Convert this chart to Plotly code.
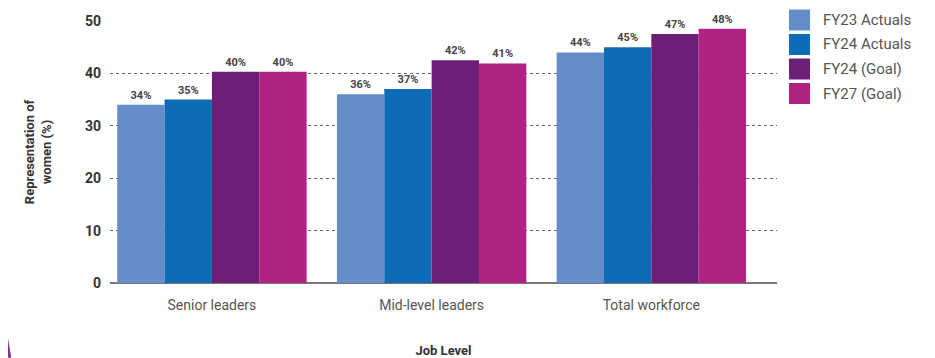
import plotly.graph_objects as go

categories = ["Senior leaders", "Mid-level leaders", "Total workforce"]
series_names = ["FY23 Actuals", "FY24 Actuals", "FY24 (Goal)", "FY27 (Goal)"]
fy23_actuals = [34.0, 36.0, 44.0]
fy24_actuals = [35.0, 37.0, 45.0]
fy24_goal = [40.3, 42.5, 47.5]
fy27_goal = [40.3, 41.9, 48.5]
fy23_labels = ["34%", "36%", "44%"]
fy24_labels = ["35%", "37%", "45%"]
fy24_goal_labels = ["40%", "42%", "47%"]
fy27_goal_labels = ["40%", "41%", "48%"]
y_ticks = [0, 10, 20, 30, 40, 50]

colors = ["#658DC9", "#0E6BB5", "#6D1F78", "#AF2482"]
values = [fy23_actuals, fy24_actuals, fy24_goal, fy27_goal]
labels = [fy23_labels, fy24_labels, fy24_goal_labels, fy27_goal_labels]

FONT = "Roboto, DejaVu Sans, sans-serif"

W, H = 927, 350
ML, MR, MT, MB = 102, 158, 13, 75
PW, PH = W - ML - MR, H - MT - MB

def px(fx):
    return (fx - ML) / PW

def py(fy):
    return (H - MB - fy) / PH

fig = go.Figure()
for name, vals, labs, col in zip(series_names, values, labels, colors):
    fig.add_trace(go.Bar(
        x=categories, y=vals, name=name, text=labs, showlegend=False,
        textposition="outside", cliponaxis=False,
        textfont=dict(family=FONT, size=11, color="#444444", weight="bold"),
        marker=dict(color=col, line=dict(width=0)),
    ))

fig.update_layout(
    width=W, height=H,
    margin=dict(l=ML, r=MR, t=MT, b=MB, autoexpand=False),
    paper_bgcolor="white", plot_bgcolor="white",
    barmode="group", bargap=0.138, bargroupgap=0,
    font=dict(family=FONT, color="#444444"),
    showlegend=False,
    xaxis=dict(
        range=[-0.464, 2.572],
        tickfont=dict(family=FONT, size=14, color="#555555"),
        ticklabelstandoff=12,
        title=dict(text="Job Level", font=dict(family=FONT, size=13, color="#333333", weight="bold"), standoff=33),
        showgrid=False, ticks="", showline=False,
    ),
    yaxis=dict(
        range=[0, 50], tickvals=y_ticks,
        tickfont=dict(family=FONT, size=14, color="#333333", weight="bold"),
        showgrid=True, gridcolor="#666666", griddash="dot", gridwidth=1,
        zeroline=True, zerolinecolor="#777777", zerolinewidth=1.5,
        ticks="", ticklabelstandoff=8,
        title=dict(text="Representation of<br>women (%)", font=dict(family=FONT, size=13, color="#333333", weight="bold"), standoff=30),
    ),
)

# custom legend with large square swatches
for i, (name, col) in enumerate(zip(series_names, colors)):
    cy = 12 + 24.5 * i
    fig.add_shape(type="rect", xref="paper", yref="paper",
                  x0=px(781), x1=px(802), y0=py(cy + 10.5), y1=py(cy - 10.5),
                  fillcolor=col, line=dict(width=0))
    fig.add_annotation(xref="paper", yref="paper", x=px(813), y=py(cy),
                       xanchor="left", yanchor="middle", showarrow=False,
                       text=name, font=dict(family=FONT, size=15, color="#555555"))

fig.add_shape(type="path", xref="paper", yref="paper",
              path="M -0.153 -0.21 L -0.148 -0.285 L -0.153 -0.285 Z",
              fillcolor="#7B3A8C", line=dict(width=0), layer="above")

fig.write_html("out.html")
